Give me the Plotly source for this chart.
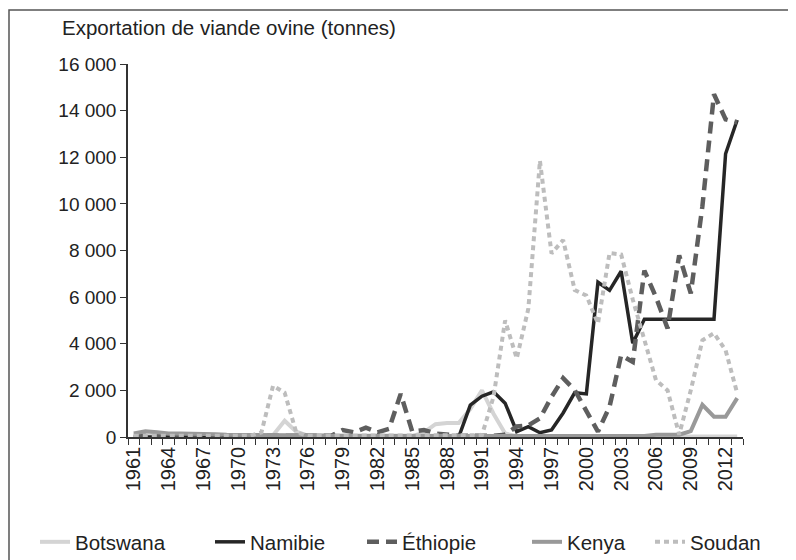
import plotly.graph_objects as go

years = list(range(1961, 2014))

botswana = [80, 100, 80, 60, 60, 50, 50, 60, 50, 60, 50, 60,
            80, 700, 230, 60, 50, 40, 40, 40, 30, 30, 30, 30, 40,
            200, 550, 600, 600, 1200, 2000, 1000, 150, 30, 20, 20,
            20, 20, 20, 20, 20, 20, 20, 20, 20, 20, 20, 20, 20, 20,
            20, 20, 20]

namibie = [0] * 29 + [1370, 1750, 1940, 1450, 230, 440, 185, 300,
                      1030, 1900, 1850, 6640, 6290, 7110, 4020, 5050,
                      5050, 5050, 5050, 5050, 5050, 5050, 12150, 13600]

ethiopie = [50, 50, 50, 50, 50, 50, 50, 50, 50, 50, 50, 50,
            50, 50, 50, 50, 50, 50, 300, 200, 400, 200, 350, 1850,
            230, 300, 150, 100, 50, 50, 50, 50, 100, 450, 500, 800,
            1720, 2520, 2010, 1150, 230, 1300, 3510, 3220, 7140, 6000,
            4660, 7790, 6160, 9900, 14700, 13630, 13490]

kenya = [150, 250, 200, 150, 150, 150, 150, 120, 100, 100, 100, 100,
         100, 100, 100, 80, 60, 50, 50, 40, 40, 40, 40, 40, 40,
         40, 40, 40, 40, 40, 40, 40, 40, 40, 40, 40, 40, 40, 40,
         40, 40, 40, 40, 40, 40, 100, 100, 100, 250, 1380, 870,
         870, 1670]

soudan = [50, 50, 50, 50, 50, 50, 50, 50, 50, 50, 50, 200,
          2200, 1900, 200, 50, 50, 50, 50, 50, 50, 50, 50, 50, 50,
          50, 50, 50, 50, 50, 80, 1720, 5000, 3370, 5500, 11850,
          7870, 8450, 6300, 6070, 4870, 7890, 7830, 5900, 4150,
          2440, 2000, 100, 2000, 4150, 4450, 3720, 1880]

label_years = list(range(1961, 2013, 3))
y_ticks = list(range(0, 16001, 2000))

FONT = "Liberation Sans"

series = [
    ("Botswana", botswana, "#d4d4d4", "solid", 4),
    ("Namibie", namibie, "#262626", "solid", 3.5),
    ("Éthiopie", ethiopie, "#5e5e5e", "12px,7px", 4.5),
    ("Kenya", kenya, "#999999", "solid", 4),
    ("Soudan", soudan, "#bdbdbd", "5px,4px", 4),
]

# one small legend per series so the spacing follows the original
legend_x = [27, 202, 354, 519, 642]

fig = go.Figure()
legends = {}
for i, (name, vals, col, dash, w) in enumerate(series):
    key = "legend" if i == 0 else "legend%d" % (i + 1)
    fig.add_trace(go.Scatter(x=years, y=vals, name=name, mode="lines",
                             legend=key,
                             line={"color": col, "dash": dash, "width": w}))
    legends[key] = {"orientation": "h", "xref": "container",
                    "yref": "container", "x": legend_x[i] / 788,
                    "xanchor": "left", "y": 1 - 534 / 552,
                    "yanchor": "middle", "font": {"size": 20.5},
                    "itemwidth": 30, "bgcolor": "rgba(0,0,0,0)"}

# page body adds 8px, so the figure is 788x552
fig.update_layout(
    width=788, height=552,
    margin={"l": 120, "r": 53, "t": 56, "b": 123, "autoexpand": False},
    paper_bgcolor="white", plot_bgcolor="white",
    separators=", ",
    font={"family": FONT, "size": 20, "color": "#222"},
    showlegend=True,
    annotations=[{"text": "Exportation de viande ovine (tonnes)",
                  "xref": "paper", "yref": "paper",
                  "x": -0.111, "y": 1.097, "xanchor": "left",
                  "yanchor": "middle", "showarrow": False,
                  "font": {"size": 20.5}}],
    shapes=[{"type": "rect", "xref": "paper", "yref": "paper",
             "x0": -0.1935, "x1": 1.2, "y0": -0.5, "y1": 1.145,
             "line": {"color": "#555", "width": 1.5}}],
    **legends,
)

fig.update_xaxes(
    range=[1960.5, 2013.5], showgrid=False, zeroline=False,
    showline=True, linecolor="#333", linewidth=1.5, automargin=False,
    tickmode="array", tickvals=label_years,
    ticktext=[str(y) for y in label_years],
    tickangle=-90, ticks="", tickfont={"size": 20},
    minor={"tickmode": "array",
           "tickvals": [y + 0.5 for y in range(1960, 2014)],
           "ticks": "outside", "ticklen": 6, "tickcolor": "#333",
           "tickwidth": 1.2, "showgrid": False},
)

fig.update_yaxes(
    range=[0, 16000], showgrid=False, zeroline=False,
    showline=True, linecolor="#333", linewidth=1.5, automargin=False,
    tickmode="array", tickvals=y_ticks, tickformat=",d",
    ticks="outside", ticklen=6, tickcolor="#333", tickwidth=1.2,
    tickfont={"size": 19},
)

fig.write_html("out.html")
